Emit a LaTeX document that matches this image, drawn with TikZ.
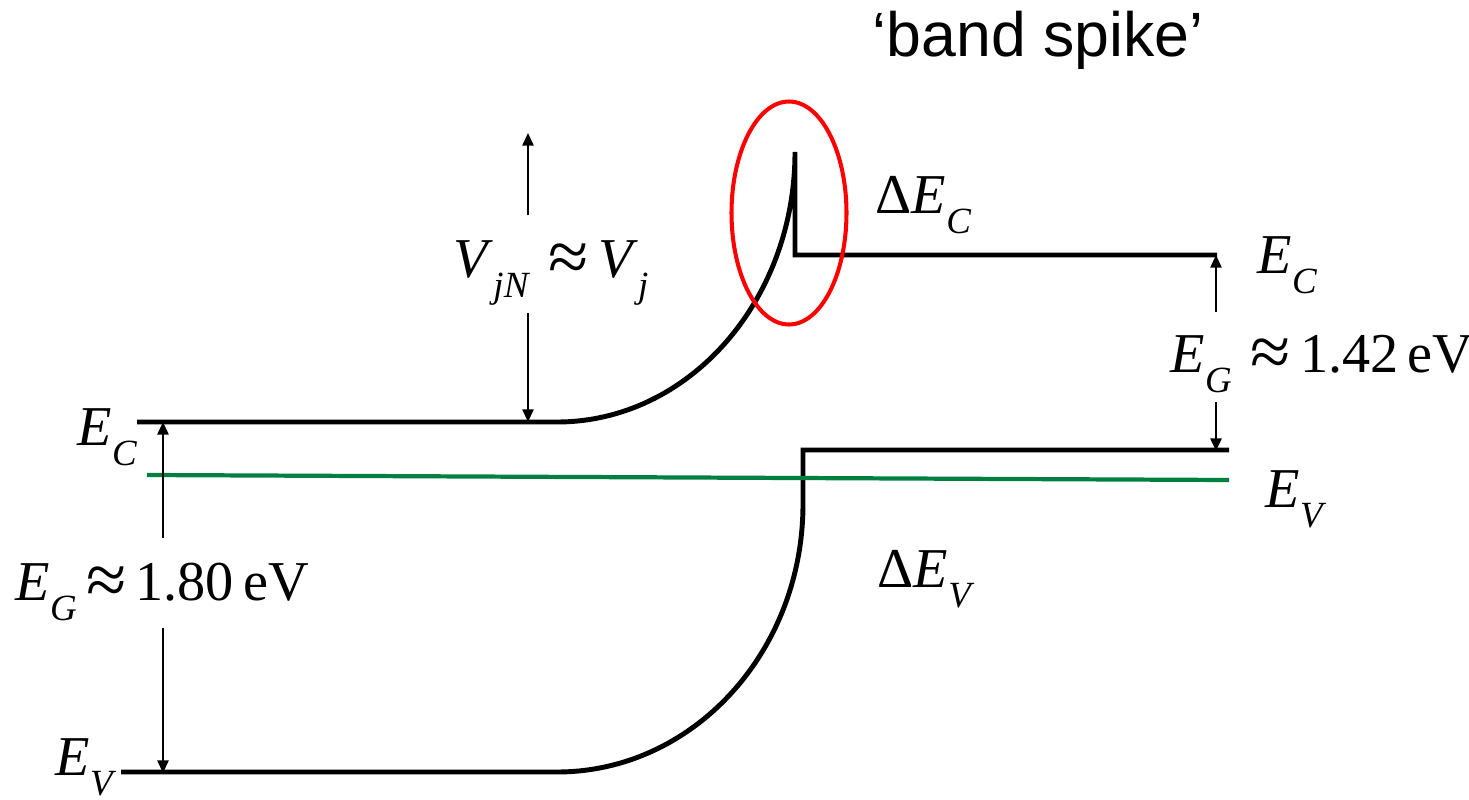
\documentclass[tikz,border=0pt]{standalone}
\usepackage{fontspec}
\usepackage{graphicx}
\setmainfont{Liberation Serif}
\newfontfamily\arialfont{Liberation Sans}
\usetikzlibrary{arrows.meta}
\definecolor{fermigreen}{RGB}{0,128,64}
\newcommand\Esb[2]{\textit{#1}\raisebox{-5.7pt}{\fontsize{10.5}{11}\selectfont\textit{#2}}}
\newcommand\apx{\raisebox{-0.08em}{\scalebox{1.3}{≈}}}
\begin{document}
\begin{tikzpicture}[x=0.01cm,y=0.01cm,
  band/.style={line width=1.4pt, line cap=butt, line join=miter},
  fermi/.style={line width=1.2pt, draw=fermigreen},
  arr/.style={line width=0.55pt, -{Triangle[length=3.6pt,width=3.2pt]}},
  lbl/.style={inner sep=0pt, anchor=base west, font=\fontsize{16}{19}\selectfont},
  spike/.style={draw=red, line width=1.15pt},
]
\useasboundingbox (0,0) rectangle (1469,-800);

% band coordinates
\coordinate (ecL0) at (137,-422);
\coordinate (ecL1) at (557,-422);
\coordinate (ecTop) at (795,-152);
\coordinate (ecStep) at (795,-255);
\coordinate (ecR) at (1217,-255);
\coordinate (evL0) at (121,-772);
\coordinate (evL1) at (557,-772);
\coordinate (evMid) at (803,-504);
\coordinate (evStep) at (803,-450);
\coordinate (evR) at (1229,-450);
\coordinate (efL) at (147,-475);
\coordinate (efR) at (1229,-480);
\coordinate (spikeC) at (789,-213);

% conduction band
\draw[band] (ecL0) -- (ecL1) arc[start angle=270, end angle=360, x radius=238, y radius=270] -- (ecStep) -- (ecR);
% valence band
\draw[band] (evL0) -- (evL1) arc[start angle=270, end angle=360, x radius=246, y radius=268] -- (evStep) -- (evR);
% Fermi level
\draw[fermi] (efL) -- (efR);

% spike ellipse
\draw[spike] (spikeC) ellipse[x radius=57.5, y radius=111.5];

% labels
\node[lbl] (ecLlab) at (77,-445) {\Esb{E}{C}};
\node[lbl] (evLlab) at (55,-775) {\Esb{E}{V}};
\node[lbl] (egL) at (15,-600) {\Esb{E}{G}\,\apx\,1.80\,eV};
\node[lbl] (egR) at (1170,-372) {\Esb{E}{G}\,\,\apx\,1.42\,eV};
\node[lbl] (ecRlab) at (1257,-273) {\Esb{E}{C}};
\node[lbl] (evRlab) at (1265,-507) {\Esb{E}{V}};
\node[lbl] (dEc) at (875,-213) {Δ\Esb{E}{C}};
\node[lbl] (dEv) at (877,-587) {Δ\Esb{E}{V}};
\node[lbl] (vj) at (453,-277) {\Esb{V}{jN}\,\,\apx\,\Esb{V}{j}};
\node[inner sep=0pt, anchor=base, font=\arialfont\fontsize{17.8}{21}\selectfont] (title) at (1038,-57) {‘band spike’};

% arrows
\coordinate (vjTop) at (528,-215);
\coordinate (vjTopTip) at (528,-133);
\coordinate (vjBot) at (528,-313);
\coordinate (vjBotTip) at (528,-422);
\draw[arr] (vjTop) -- (vjTopTip);
\draw[arr] (vjBot) -- (vjBotTip);

\coordinate (egLTop) at (163,-538);
\coordinate (egLTopTip) at (163,-422);
\coordinate (egLBot) at (163,-628);
\coordinate (egLBotTip) at (163,-773);
\draw[arr] (egLTop) -- (egLTopTip);
\draw[arr] (egLBot) -- (egLBotTip);

\coordinate (egRTop) at (1216,-312);
\coordinate (egRTopTip) at (1216,-255);
\coordinate (egRBot) at (1216,-402);
\coordinate (egRBotTip) at (1216,-451);
\draw[arr] (egRTop) -- (egRTopTip);
\draw[arr] (egRBot) -- (egRBotTip);
\end{tikzpicture}
\end{document}
